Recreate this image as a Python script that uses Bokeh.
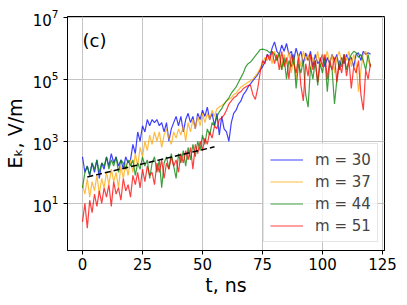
import numpy as np
from bokeh.plotting import figure
from bokeh.models import (Range1d, FixedTicker, Label, Legend, LegendItem)
from bokeh.embed import file_html
from bokeh.resources import INLINE

# ---- data (log10 of E_k in V/m, sampled every 1 ns) ----
t_ns = list(range(0, 121))

m30_log10 = [2.5, 2.0, 2.2, 1.9, 2.3, 2.0, 2.4, 1.8, 2.3, 2.1,
             2.5, 2.2, 2.6, 2.3, 2.5, 2.2, 2.4, 2.1, 2.5, 2.3,
             2.4, 2.9, 2.6, 3.3, 3.0, 3.5, 3.3, 3.7, 3.5, 3.7,
             3.6, 3.7, 3.5, 3.6, 3.3, 3.6, 3.0, 3.4, 3.6, 3.8,
             3.5, 3.8, 3.3, 3.7, 3.9, 3.6, 3.8, 3.4, 3.9, 3.7,
             4.0, 3.8, 4.1, 3.7, 3.9, 3.5, 3.9, 3.2, 3.8, 3.4,
             3.3, 3.0, 3.6, 3.9, 4.0, 4.2, 4.3, 4.5, 4.6, 4.75,
             4.85, 4.95, 5.05, 5.15, 5.3, 5.4, 5.55, 5.8, 5.7, 6.0,
             6.2, 5.9, 5.8, 6.1, 5.9, 6.15, 5.8, 5.9, 5.6, 6.0,
             5.7, 5.9, 5.5, 5.85, 5.6, 5.9, 5.4, 5.8, 5.5, 5.6,
             5.8, 5.4, 5.7, 5.5, 5.8, 5.6, 5.8, 5.3, 5.7, 5.5,
             5.8, 5.6, 5.7, 5.4, 5.8, 5.85, 5.6, 5.9, 5.8, 5.85,
             5.8]

m37_log10 = [1.6, 1.3, 1.8, 1.2, 1.7, 1.4, 1.9, 1.3, 1.8, 1.5,
             2.0, 1.6, 2.1, 1.7, 2.0, 1.5, 2.2, 1.8, 2.3, 1.9,
             2.4, 2.0, 2.6, 2.2, 2.8, 2.5, 3.0, 2.7, 3.2, 2.9,
             3.3, 3.0, 3.3, 2.8, 3.2, 3.4, 3.1, 2.9, 3.3, 3.1,
             3.4, 3.2, 3.5, 3.0, 3.6, 3.3, 3.7, 3.4, 3.8, 3.5,
             3.9, 3.6, 3.9, 3.7, 4.0, 3.8, 4.05, 4.1, 4.15, 4.2,
             4.3, 4.35, 4.4, 4.5, 4.55, 4.65, 4.75, 4.8, 4.85, 4.9,
             4.95, 5.0, 5.1, 5.2, 5.35, 5.5, 5.7, 5.6, 5.8, 5.5,
             5.9, 5.6, 5.85, 5.3, 5.8, 5.5, 5.9, 5.2, 5.7, 5.0,
             5.8, 5.4, 5.9, 5.6, 5.8, 5.3, 5.7, 5.5, 5.9, 5.4,
             5.8, 5.6, 5.9, 5.5, 5.8, 5.2, 5.7, 5.9, 5.5, 5.8,
             5.6, 5.9, 5.4, 5.8, 5.5, 4.6, 5.3, 5.8, 5.9, 5.6,
             5.4]

m44_log10 = [1.5, 2.0, 2.2, 1.9, 2.3, 2.1, 2.4, 2.0, 2.3, 2.2,
             2.5, 2.1, 2.4, 2.2, 2.5, 2.0, 2.4, 2.3, 2.1, 2.4,
             2.2, 2.4, 1.9, 2.3, 2.1, 2.5, 2.2, 2.4, 1.8, 2.3,
             2.5, 2.0, 2.4, 1.5, 2.3, 2.5, 2.1, 2.6, 2.2, 1.8,
             2.6, 2.3, 2.7, 2.2, 2.8, 2.4, 2.9, 2.5, 3.0, 2.7,
             3.2, 2.9, 3.4, 3.2, 3.6, 3.5, 3.8, 3.95, 4.05, 4.2,
             4.3, 4.4, 4.55, 4.65, 4.75, 4.9, 5.05, 5.2, 5.4, 5.5,
             5.55, 5.65, 5.75, 5.85, 5.95, 5.97, 5.95, 5.92, 5.85, 5.9,
             5.8, 5.6, 5.85, 5.3, 5.7, 5.0, 5.6, 5.4, 5.8, 4.7,
             5.5, 5.2, 5.6, 4.5, 4.1, 5.4, 5.0, 5.6, 4.8, 5.5,
             5.2, 5.7, 4.6, 5.5, 5.3, 4.2, 5.0, 5.6, 5.4, 5.8,
             5.3, 5.6, 5.8, 5.9, 5.85, 5.7, 5.8, 5.6, 5.3, 5.8,
             5.4]

m51_log10 = [0.4, 1.0, 0.2, 1.1, 0.7, 1.3, 0.9, 1.4, 1.0, 1.5,
             1.2, 1.6, 0.9, 1.7, 1.3, 1.5, 1.1, 1.8, 1.4, 1.6,
             1.2, 1.9, 1.6, 2.0, 1.5, 2.1, 1.7, 2.2, 1.9, 2.0,
             1.6, 2.3, 2.0, 2.4, 1.8, 2.3, 2.1, 2.5, 2.2, 2.4,
             2.0, 2.6, 2.3, 2.7, 2.4, 2.8, 2.1, 2.9, 2.6, 3.0,
             2.7, 3.1, 2.9, 3.3, 3.1, 3.5, 3.4, 3.7, 3.75, 3.85,
             4.0, 4.2, 4.3, 4.4, 4.45, 4.55, 4.6, 4.7, 4.75, 4.8,
             4.8, 4.5, 4.35, 4.7, 5.2, 5.6, 5.5, 5.8, 5.6, 5.9,
             5.5, 5.8, 5.3, 5.9, 5.4, 5.7, 5.0, 5.8, 5.5, 5.2,
             5.7, 4.8, 4.3, 5.5, 5.1, 5.8, 5.3, 5.6, 4.9, 5.7,
             5.4, 5.8, 5.0, 5.6, 5.3, 5.7, 4.9, 5.5, 5.2, 5.8,
             5.1, 5.6, 4.7, 5.4, 5.2, 5.6, 4.5, 4.0, 5.3, 5.0,
             5.5]

fit_t = [2, 55]
fit_log10 = [1.85, 2.82]

series_labels = ["m = 30", "m = 37", "m = 44", "m = 51"]
series_colors = ["#0000ff", "#ffa500", "#008000", "#ff0000"]

x_ticks = [0, 25, 50, 75, 100, 125]
y_ticks = [1e1, 1e3, 1e5, 1e7]

# ---- figure ----
FONT = "DejaVu Sans"
p = figure(frame_width=317, frame_height=234,
           output_backend="svg", toolbar_location=None,
           y_axis_type="log",
           x_range=Range1d(-6.25, 125.83),
           y_range=Range1d(10 ** -0.52, 10 ** 7.02),
           min_border_left=67, min_border_right=15,
           min_border_top=16, min_border_bottom=46)

p.outline_line_color = "black"
p.outline_line_width = 1
p.background_fill_color = "white"
p.border_fill_color = "white"

for ax in (p.xaxis[0], p.yaxis[0]):
    ax.axis_line_color = "black"
    ax.major_tick_line_color = "black"
    ax.major_tick_out = 4
    ax.major_tick_in = 0
    ax.minor_tick_line_color = None
    ax.major_label_text_font = FONT
    ax.major_label_text_font_size = "15px"
    ax.major_label_text_color = "black"
    ax.axis_label_text_font = FONT
    ax.axis_label_text_font_size = "19px"
    ax.axis_label_text_font_style = "normal"
    ax.axis_label_text_color = "black"

p.xaxis.ticker = FixedTicker(ticks=x_ticks)
p.yaxis.ticker = FixedTicker(ticks=y_ticks)
p.xaxis.major_label_standoff = 3
p.xaxis.axis_label = "t, ns"
p.xaxis.axis_label_standoff = 1
p.yaxis.axis_label = "E\u2096, V/m"
p.yaxis.axis_label_standoff = 4

p.xgrid.grid_line_color = "#c4c4c4"
p.ygrid.grid_line_color = "#c4c4c4"
p.xgrid.ticker = FixedTicker(ticks=x_ticks)
p.ygrid.ticker = FixedTicker(ticks=y_ticks)

renderers = []
for lab, col, arr in zip(series_labels, series_colors,
                         [m30_log10, m37_log10, m44_log10, m51_log10]):
    vals = [10 ** v for v in arr]
    r = p.line(t_ns, vals, line_color=col, line_width=1.2, line_alpha=0.75)
    renderers.append(r)

p.line(fit_t, [10 ** v for v in fit_log10], line_color="black",
       line_width=1.5, line_dash="6 3")

legend = Legend(items=[LegendItem(label=l, renderers=[r])
                       for l, r in zip(series_labels, renderers)],
                location=(196, 8), padding=6, spacing=3,
                glyph_width=33, glyph_height=19, label_height=19,
                label_standoff=12,
                label_text_font=FONT, label_text_font_size="15px",
                border_line_color="#cccccc", border_line_width=1,
                background_fill_alpha=0.8)
p.add_layout(legend)

# panel tag
p.add_layout(Label(x=15, y=200, x_units="screen", y_units="screen",
                   text="(c)", text_font=FONT, text_font_size="18px",
                   text_color="black"))

open("out.html", "w").write(file_html(p, INLINE))
